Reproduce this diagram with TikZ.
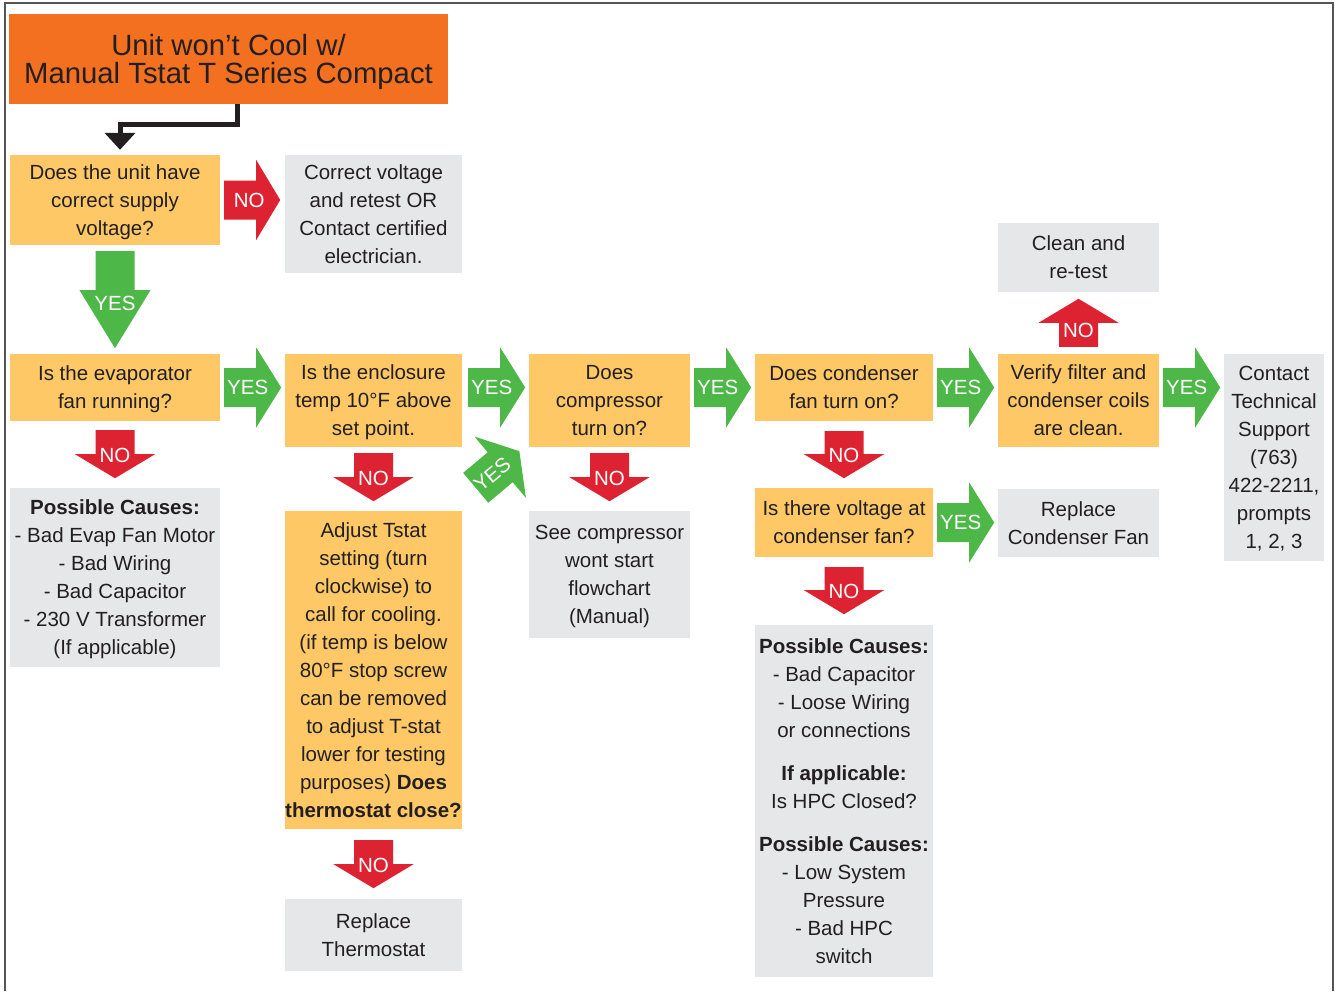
\documentclass[tikz,border=0pt]{standalone}
\usepackage{fontspec}
\setmainfont{Liberation Sans}
\usetikzlibrary{arrows.meta,calc}
\definecolor{orng}{HTML}{F37021}
\definecolor{yel}{HTML}{FDC865}
\definecolor{gry}{HTML}{E6E7E8}
\definecolor{grn}{HTML}{4DB848}
\definecolor{rd}{HTML}{DD2232}
\definecolor{ink}{HTML}{231F20}
\definecolor{frm}{HTML}{555555}
% #1 tail, #2 angle, #3 shaft length, #4 head length, #5 head half width, #6 colour
\newcommand{\fatarrow}[6]{\fill[#6,shift={#1},rotate=#2] (0,-19.5) -- (#3,-19.5) -- (#3,-#5) -- ({#3+#4},0) -- (#3,#5) -- (#3,19.5) -- (0,19.5) -- cycle;}
\tikzset{
  box/.style={inner sep=0pt, align=center, text=ink, text depth=0pt, font=\fontsize{20.5}{28}\selectfont},
  qbox/.style={box, fill=yel},
  gbox/.style={box, fill=gry},
  sz/.style 2 args={minimum width=#1pt, minimum height=#2pt},
  lbl/.style={text=white, inner sep=0pt, font=\fontsize{20.5}{24}\selectfont},
}
\begin{document}
\begin{tikzpicture}[x=1pt,y=-1pt]
\useasboundingbox (0,0) rectangle (1335,991);
\draw[frm, line width=1.5pt] (5,991) -- (5,3) -- (1333,3) -- (1333,991);

% title
\node[box, fill=orng, sz={439}{90}, font=\fontsize{29.3}{28}\selectfont] (title) at (228.5,59)
  {Unit won’t Cool w/\\Manual Tstat T Series Compact};

% boxes
\node[qbox, sz={210}{90}] (q1) at (115,200) {Does the unit have\\correct supply\\voltage?};
\node[gbox, sz={177}{118}] (g1) at (373.5,214) {Correct voltage\\and retest OR\\Contact certified\\electrician.};
\node[qbox, sz={210}{67}] (q2) at (115,387.5) {Is the evaporator\\fan running?};
\node[gbox, sz={210}{179}] (g2) at (115,577.5) {\textbf{Possible Causes:}\\- Bad Evap Fan Motor\\- Bad Wiring\\- Bad Capacitor\\- 230 V Transformer\\(If applicable)};
\node[qbox, sz={177}{93}] (q3) at (373.5,400.5) {Is the enclosure\\temp 10°F above\\set point.};
\node[qbox, sz={177}{318}] (q4) at (373.5,670) {Adjust Tstat\\setting (turn\\clockwise) to\\call for cooling.\\(if temp is below\\80°F stop screw\\can be removed\\to adjust T-stat\\lower for testing\\purposes) \textbf{Does}\\\textbf{thermostat close?}};
\node[gbox, sz={177}{72}] (g3) at (373.5,935) {Replace\\Thermostat};
\node[qbox, sz={161}{93}] (q5) at (609.5,400.5) {Does\\compressor\\turn on?};
\node[gbox, sz={161}{127}] (g4) at (609.5,574.5) {See compressor\\wont start\\flowchart\\(Manual)};
\node[qbox, sz={178}{67}] (q6) at (844,387.5) {Does condenser\\fan turn on?};
\node[qbox, sz={178}{69}] (q7) at (844,522.5) {Is there voltage at\\condenser fan?};
\node[gbox, sz={178}{352}] (g5) at (844,801) {\textbf{Possible Causes:}\\- Bad Capacitor\\- Loose Wiring\\or connections\\[15pt]\textbf{If applicable:}\\Is HPC Closed?\\[15pt]\textbf{Possible Causes:}\\- Low System\\Pressure\\- Bad HPC\\switch};
\node[qbox, sz={161}{93}] (q8) at (1078.5,400.5) {Verify filter and\\condenser coils\\are clean.};
\node[gbox, sz={161}{69}] (g6) at (1078.5,257.5) {Clean and\\re-test};
\node[gbox, sz={161}{68}] (g7) at (1078.5,523) {Replace\\Condenser Fan};
\node[gbox, sz={100}{207}] (g8) at (1274,457.5) {Contact\\Technical\\Support\\(763)\\422-2211,\\prompts\\1, 2, 3};

% black start connector
\coordinate (k1) at (237,124.5);
\coordinate (k2) at (120,124.5);
\draw[ink, line width=5pt, line join=miter, -{Triangle[width=30pt,length=17pt]}]
  (title.south -| k1) |- (k2) -- ($(q1.north)+(5,-5)$);

% fat arrows
\coordinate (n1) at ($(q1.east)+(4,0)$);
\fatarrow{(n1)}{0}{32}{24}{40}{rd}
\node[lbl] (ln1) at ($(n1)+(25,0)$) {NO};

\coordinate (y1) at ($(q1.south)+(0,6)$);
\fatarrow{(y1)}{-90}{39}{58}{35.5}{grn}
\node[lbl] (ly1) at ($(y1)+(0,52)$) {YES};

\coordinate (n2) at ($(q2.south)+(0,9)$);
\fatarrow{(n2)}{-90}{24}{24}{40}{rd}
\node[lbl] (ln2) at ($(n2)+(0,25)$) {NO};

\coordinate (y2) at ($(q2.east)+(4,0)$);
\fatarrow{(y2)}{0}{32}{25}{40}{grn}
\node[lbl] (ly2) at ($(y2)+(23.5,0)$) {YES};

\coordinate (n3) at ($(q3.south)+(0,6)$);
\fatarrow{(n3)}{-90}{24}{24}{40}{rd}
\node[lbl] (ln3) at ($(n3)+(0,25)$) {NO};

\coordinate (yd) at ($(q3.south east)+(13.5,40.6)$);
\fatarrow{(yd)}{40}{32}{25}{40}{grn}
\node[lbl, rotate=40] (lyd) at ($(yd)+(16.5,-13.5)$) {YES};

\coordinate (y3) at ($(q3.east |- q2.east)+(6,0)$);
\fatarrow{(y3)}{0}{32}{25}{40}{grn}
\node[lbl] (ly3) at ($(y3)+(23.5,0)$) {YES};

\coordinate (n4) at ($(q5.south)+(0,6)$);
\fatarrow{(n4)}{-90}{24}{24}{40}{rd}
\node[lbl] (ln4) at ($(n4)+(0,25)$) {NO};

\coordinate (y4) at ($(q5.east |- q2.east)+(4,0)$);
\fatarrow{(y4)}{0}{32}{25}{40}{grn}
\node[lbl] (ly4) at ($(y4)+(23.5,0)$) {YES};

\coordinate (n5) at ($(q6.south)+(0,10)$);
\fatarrow{(n5)}{-90}{23}{24}{40}{rd}
\node[lbl] (ln5) at ($(n5)+(0,24)$) {NO};

\coordinate (y5) at ($(q6.east)+(4,0)$);
\fatarrow{(y5)}{0}{32}{25}{40}{grn}
\node[lbl] (ly5) at ($(y5)+(23.5,0)$) {YES};

\coordinate (n6) at ($(q7.south)+(0,10)$);
\fatarrow{(n6)}{-90}{23}{24}{40}{rd}
\node[lbl] (ln6) at ($(n6)+(0,24)$) {NO};

\coordinate (y6) at ($(q7.east)+(4,0)$);
\fatarrow{(y6)}{0}{32}{25}{40}{grn}
\node[lbl] (ly6) at ($(y6)+(23.5,0)$) {YES};

\coordinate (n7) at ($(q8.north)+(0,-7)$);
\fatarrow{(n7)}{90}{24}{24}{40}{rd}
\node[lbl] (ln7) at ($(n7)+(0,-16)$) {NO};

\coordinate (y7) at ($(q8.east |- q2.east)+(4,0)$);
\fatarrow{(y7)}{0}{32}{25}{40}{grn}
\node[lbl] (ly7) at ($(y7)+(23.5,0)$) {YES};

\coordinate (n8) at ($(q4.south)+(0,11)$);
\fatarrow{(n8)}{-90}{24}{24}{40}{rd}
\node[lbl] (ln8) at ($(n8)+(0,25)$) {NO};
\end{tikzpicture}
\end{document}
